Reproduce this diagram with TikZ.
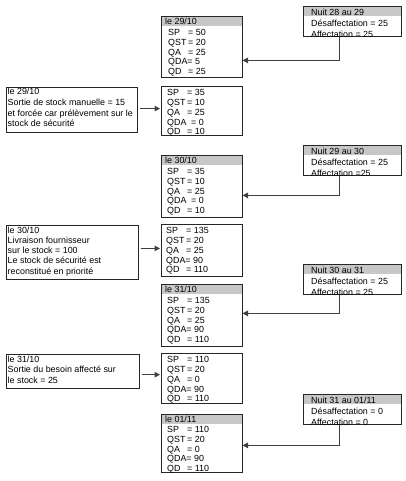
\documentclass[tikz,border=0pt]{standalone}
\usepackage{fontspec}
\setmainfont{Liberation Sans}
\usetikzlibrary{arrows.meta,backgrounds}
\newcommand\kvl[2]{\makebox[20pt][l]{#1}= #2}
\newcommand\kvw[2]{\makebox[24pt][l]{#1}= #2}
\begin{document}
\begin{tikzpicture}[x=1pt,y=-1pt,
  box/.style={draw=black!85, line width=0.8pt, rectangle, inner sep=0pt, anchor=north west},
  statebox/.style={box, minimum width=80.7pt},
  nuitbox/.style={box, minimum width=98pt, minimum height=30pt},
  txt/.style={inner sep=0pt, anchor=north west, align=left, font=\fontsize{8.9}{9.75}\selectfont},
  hdr/.style={fill=black!22},
  arr/.style={draw=black!75, line width=1pt, -{Triangle[length=5.5pt,width=5.5pt]}}
]
\useasboundingbox (0,0) rectangle (405,481);

% ---------- state boxes ----------
\node[statebox, minimum height=61pt] (s1) at (161,16) {};
\node[statebox, minimum height=49pt] (s2) at (161,86) {};
\node[statebox, minimum height=62pt] (s3) at (161,155) {};
\node[statebox, minimum height=52pt] (s4) at (161,224) {};
\node[statebox, minimum height=62pt] (s5) at (161,284) {};
\node[statebox, minimum height=50pt] (s6) at (161,353) {};
\node[statebox, minimum height=58pt] (s7) at (161,414) {};

% headers text
\node[txt] (s1h) at ([xshift=4pt,yshift=-1.8pt]s1.north west) {\strut le 29/10};
\node[txt] (s3h) at ([xshift=4pt,yshift=-1.8pt]s3.north west) {\strut le 30/10};
\node[txt] (s5h) at ([xshift=4pt,yshift=-1.8pt]s5.north west) {\strut le 31/10};
\node[txt] (s7h) at ([xshift=4pt,yshift=-1.8pt]s7.north west) {\strut le 01/11};

% contents
\node[txt] (s1c) at ([xshift=7pt,yshift=-12.6pt]s1.north west)
  {\strut\kvl{SP}{50}\\\kvl{QST}{20}\\\kvl{QA}{25}\\QDA= 5\\\kvl{QD}{25}};
\node[txt] (s2c) at ([xshift=6pt,yshift=-2.8pt]s2.north west)
  {\strut\kvl{SP}{35}\\\kvl{QST}{10}\\\kvl{QA}{25}\\\kvw{QDA}{0}\\\kvl{QD}{10}};
\node[txt] (s3c) at ([xshift=6pt,yshift=-12.6pt]s3.north west)
  {\strut\kvl{SP}{35}\\\kvl{QST}{10}\\\kvl{QA}{25}\\\kvw{QDA}{0}\\\kvl{QD}{10}};
\node[txt] (s4c) at ([xshift=5pt,yshift=-2.8pt]s4.north west)
  {\strut\kvl{SP}{135}\\\kvl{QST}{20}\\\kvl{QA}{25}\\QDA= 90\\\kvl{QD}{110}};
\node[txt] (s5c) at ([xshift=6pt,yshift=-12.6pt]s5.north west)
  {\strut\kvl{SP}{135}\\\kvl{QST}{20}\\\kvl{QA}{25}\\QDA= 90\\\kvl{QD}{110}};
\node[txt] (s6c) at ([xshift=6pt,yshift=-2.8pt]s6.north west)
  {\strut\kvl{SP}{110}\\\kvl{QST}{20}\\\kvl{QA}{0}\\QDA= 90\\\kvl{QD}{110}};
\node[txt] (s7c) at ([xshift=6pt,yshift=-11.5pt]s7.north west)
  {\strut\kvl{SP}{110}\\\kvl{QST}{20}\\\kvl{QA}{0}\\QDA= 90\\\kvl{QD}{110}};

% ---------- night boxes ----------
\node[nuitbox] (n1) at (303,6) {};
\node[nuitbox] (n2) at (303,145) {};
\node[nuitbox] (n3) at (303,264) {};
\node[nuitbox] (n4) at (303,394) {};

\node[txt] (n1h) at ([xshift=8pt,yshift=-2.6pt]n1.north west) {\strut Nuit 28 au 29};
\node[txt] (n2h) at ([xshift=8pt,yshift=-2.6pt]n2.north west) {\strut Nuit 29 au 30};
\node[txt] (n3h) at ([xshift=8pt,yshift=-2.6pt]n3.north west) {\strut Nuit 30 au 31};
\node[txt] (n4h) at ([xshift=8pt,yshift=-2.6pt]n4.north west) {\strut Nuit 31 au 01/11};

\node[txt, font=\fontsize{8.9}{9}\selectfont] (n1c) at ([xshift=8pt,yshift=-14.1pt]n1.north west)
  {\strut Désaffectation = 25\\Affectation = 25};
\node[txt, font=\fontsize{8.9}{9}\selectfont] (n2c) at ([xshift=8pt,yshift=-14.1pt]n2.north west)
  {\strut Désaffectation = 25\\Affectation =25};
\node[txt, font=\fontsize{8.9}{9}\selectfont] (n3c) at ([xshift=8pt,yshift=-14.1pt]n3.north west)
  {\strut Désaffectation = 25\\Affectation = 25};
\node[txt, font=\fontsize{8.9}{9}\selectfont] (n4c) at ([xshift=8pt,yshift=-14.1pt]n4.north west)
  {\strut Désaffectation = 0\\Affectation = 0};

% ---------- event boxes (left) ----------
\node[box, minimum width=131pt, minimum height=45pt] (lA) at (6,86.7) {};
\node[box, minimum width=132pt, minimum height=54pt] (lB) at (6,224.5) {};
\node[box, minimum width=133pt, minimum height=33.4pt] (lC) at (6,354.3) {};

\node[txt, font=\fontsize{8.9}{10.75}\selectfont] (lAt) at ([xshift=1.5pt,yshift=-0.2pt]lA.north west)
  {\strut le 29/10\\Sortie de stock manuelle = 15\\et forcée car prélèvement sur le\\stock de sécurité};
\node[txt, font=\fontsize{8.9}{10.2}\selectfont] (lBt) at ([xshift=1.5pt,yshift=-1.5pt]lB.north west)
  {\strut le 30/10\\Livraison fournisseur\\sur le stock = 100\\Le stock de sécurité est\\reconstitué en priorité};
\node[txt, font=\fontsize{8.9}{10.5}\selectfont] (lCt) at ([xshift=1.5pt,yshift=-0.4pt]lC.north west)
  {\strut le 31/10\\Sortie du besoin affecté sur\\le stock = 25};

% ---------- header fills ----------
\begin{scope}[on background layer]
  \foreach \b in {s1,s3,s5,s7,n1,n2,n3,n4}{
    \fill[hdr] (\b.north west) rectangle ([yshift=-10pt]\b.north east);
  }
\end{scope}

% ---------- connectors ----------
\coordinate (aA) at ([yshift=1pt]lA.east);
\coordinate (aB) at ([yshift=3.5pt]lB.east);
\coordinate (aC) at ([yshift=-3.3pt]lC.east);
\draw[arr, shorten >=1pt] ([xshift=2pt]aA) -- (aA -| s2.west);
\draw[arr, shorten >=1pt] ([xshift=2pt]aB) -- (aB -| s4.west);
\draw[arr, shorten >=1pt] ([xshift=2pt]aC) -- (aC -| s6.west);

\draw[arr] ([xshift=-13pt]n1.south) |- ([yshift=-13.5pt]s1.east);
\draw[arr] ([xshift=-13pt]n2.south) |- ([yshift=-9pt]s3.east);
\draw[arr] ([xshift=-12.5pt]n3.south) |- ([yshift=2pt]s5.east);
\draw[arr] ([xshift=-12.5pt]n4.south) |- ([yshift=-2pt]s7.east);
\end{tikzpicture}
\end{document}
